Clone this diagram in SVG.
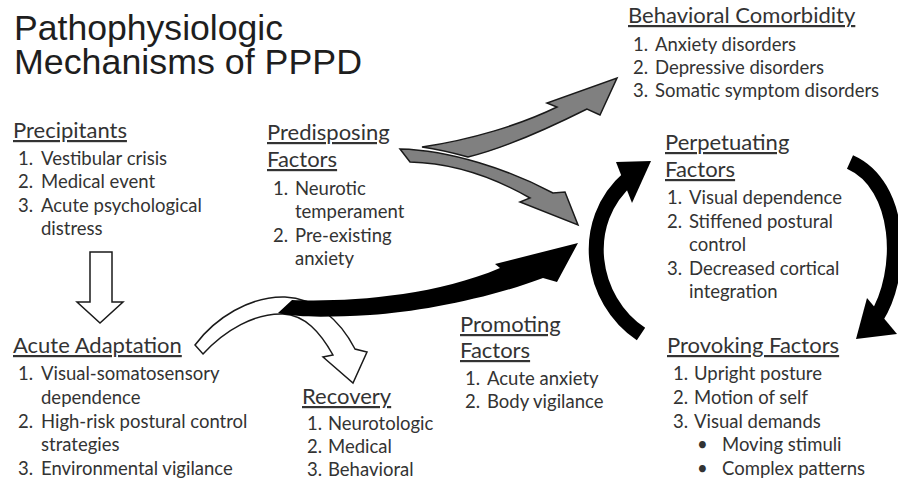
<svg xmlns="http://www.w3.org/2000/svg" width="898" height="484" viewBox="0 0 898 484">
<style>
.title{font-family:"Liberation Sans",Arial,sans-serif;font-size:35px;fill:#1e1e1e}
.h{font-family:Lato,"Open Sans",sans-serif;font-size:22px;fill:#333;text-decoration:underline}
.i{font-family:Lato,"Open Sans",sans-serif;font-size:18.5px;fill:#333}
.gray{fill:#808080;stroke:#1a1a1a;stroke-width:1.5;stroke-linejoin:miter}
.hollow{fill:#fff;stroke:#1a1a1a;stroke-width:1.5}
.blk{fill:#000}
.arc{fill:none;stroke:#000;stroke-width:15}
</style>
<rect width="898" height="484" fill="#fff"/>
<g id="title">
<text class="title"><tspan x="14" y="40" textLength="269" lengthAdjust="spacingAndGlyphs">Pathophysiologic</tspan><tspan x="14" y="74" textLength="348" lengthAdjust="spacingAndGlyphs">Mechanisms of PPPD</tspan></text>
</g>
<g id="connectors">
<path class="gray" d="M400,149 C450,150 510,170 553,193 L565,192 L578,225 L520,202 L530,198 C495,178 455,163 410,162 Z"/>
<path class="gray" d="M422,147 C470,140 520,125 557,107 L547,103 L617,78 L600,115 L587,109 C545,130 505,148 468,157 C450,152 436,149 422,147 Z"/>
<path class="hollow" d="M90,252 L112,252 L112,302 L123,302 L100,323 L77,302 L90,302 Z"/>
<path class="hollow" d="M195,345 C215,318 250,296 285,297 C315,298 340,320 355,349 L367,352 L353,383 L323,357 L333,355 C320,332 305,315 283,314 C255,313 225,330 203,354 Z"/>
<path class="blk" d="M292,300 C340,302 430,298 500,268 L495,264 L578,243 L557,282 L543,278 C490,298 420,312 370,315 C330,317 300,318 278,313 Z"/>
<path class="arc" d="M641,334 C590,300 578,222 629,178"/>
<path class="blk" d="M616,162 L651,161 L632,203 Z"/>
<path class="arc" d="M850,162 C902,185 905,272 876,318"/>
<path class="blk" d="M867,298 L897,334 L856,339 Z"/>
</g>
<g id="precipitants">
<text class="h" x="13" y="138">Precipitants</text>
<text class="i" y="165"><tspan x="18">1.</tspan><tspan x="41">Vestibular crisis</tspan></text>
<text class="i" y="188"><tspan x="18">2.</tspan><tspan x="41">Medical event</tspan></text>
<text class="i" y="212"><tspan x="18">3.</tspan><tspan x="41">Acute psychological</tspan></text>
<text class="i" x="41" y="235">distress</text>
</g>
<g id="predisposing">
<text class="h" x="267" y="140">Predisposing</text>
<text class="h" x="267" y="167">Factors</text>
<text class="i" y="195"><tspan x="273">1.</tspan><tspan x="295">Neurotic</tspan></text>
<text class="i" x="295" y="218">temperament</text>
<text class="i" y="242"><tspan x="273">2.</tspan><tspan x="295">Pre-existing</tspan></text>
<text class="i" x="295" y="265">anxiety</text>
</g>
<g id="behavioral">
<text class="h" x="628" y="23">Behavioral Comorbidity</text>
<text class="i" y="51"><tspan x="633">1.</tspan><tspan x="655">Anxiety disorders</tspan></text>
<text class="i" y="74"><tspan x="633">2.</tspan><tspan x="655">Depressive disorders</tspan></text>
<text class="i" y="97"><tspan x="633">3.</tspan><tspan x="655">Somatic symptom disorders</tspan></text>
</g>
<g id="perpetuating">
<text class="h" x="665" y="150">Perpetuating</text>
<text class="h" x="665" y="177">Factors</text>
<text class="i" y="204"><tspan x="667">1.</tspan><tspan x="689">Visual dependence</tspan></text>
<text class="i" y="228"><tspan x="667">2.</tspan><tspan x="689">Stiffened postural</tspan></text>
<text class="i" x="689" y="251">control</text>
<text class="i" y="275"><tspan x="667">3.</tspan><tspan x="689">Decreased cortical</tspan></text>
<text class="i" x="689" y="298">integration</text>
</g>
<g id="acute">
<text class="h" x="13" y="353">Acute Adaptation</text>
<text class="i" y="380"><tspan x="18">1.</tspan><tspan x="41">Visual-somatosensory</tspan></text>
<text class="i" x="41" y="404">dependence</text>
<text class="i" y="428"><tspan x="18">2.</tspan><tspan x="41">High-risk postural control</tspan></text>
<text class="i" x="41" y="451">strategies</text>
<text class="i" y="475"><tspan x="18">3.</tspan><tspan x="41">Environmental vigilance</tspan></text>
</g>
<g id="recovery">
<text class="h" x="302" y="404">Recovery</text>
<text class="i" y="430"><tspan x="307">1.</tspan><tspan x="328">Neurotologic</tspan></text>
<text class="i" y="453"><tspan x="307">2.</tspan><tspan x="328">Medical</tspan></text>
<text class="i" y="476"><tspan x="307">3.</tspan><tspan x="328">Behavioral</tspan></text>
</g>
<g id="promoting">
<text class="h" x="460" y="332">Promoting</text>
<text class="h" x="460" y="358">Factors</text>
<text class="i" y="385"><tspan x="465">1.</tspan><tspan x="487">Acute anxiety</tspan></text>
<text class="i" y="408"><tspan x="465">2.</tspan><tspan x="487">Body vigilance</tspan></text>
</g>
<g id="provoking">
<text class="h" x="667" y="353">Provoking Factors</text>
<text class="i" y="380"><tspan x="673">1.</tspan><tspan x="694">Upright posture</tspan></text>
<text class="i" y="404"><tspan x="673">2.</tspan><tspan x="694">Motion of self</tspan></text>
<text class="i" y="428"><tspan x="673">3.</tspan><tspan x="694">Visual demands</tspan></text>
<text class="i" y="451"><tspan x="697">•</tspan><tspan x="722">Moving stimuli</tspan></text>
<text class="i" y="475"><tspan x="697">•</tspan><tspan x="722">Complex patterns</tspan></text>
</g>
</svg>
